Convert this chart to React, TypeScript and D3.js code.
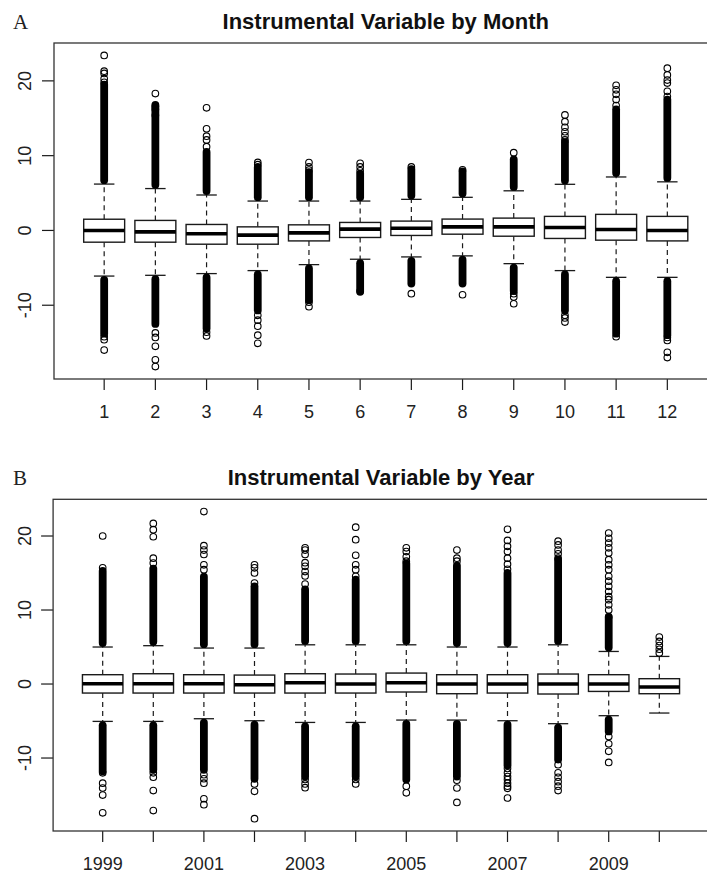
import React from 'react';
import * as d3 from 'd3';

const WIDTH = 707;
const HEIGHT = 873;
const FONT = '"Liberation Sans", Arial, sans-serif';
const INK = '#1a1a1a';

// Panel A: by month
const months = ['1', '2', '3', '4', '5', '6', '7', '8', '9', '10', '11', '12'];
const monthMedian = [0.0, -0.19, -0.45, -0.63, -0.32, 0.17, 0.3, 0.48, 0.48, 0.4, 0.13, 0.0];
const monthQ1 = [-1.57, -1.57, -1.84, -1.84, -1.4, -0.94, -0.67, -0.5, -0.77, -1.07, -1.3, -1.4];
const monthQ3 = [1.5, 1.34, 0.8, 0.48, 0.75, 1.07, 1.25, 1.52, 1.65, 1.88, 2.15, 1.88];
const monthWhiskerLo = [-6.1, -6.0, -5.77, -5.37, -4.57, -3.85, -3.54, -3.4, -4.44, -5.37, -6.27, -6.27];
const monthWhiskerHi = [6.2, 5.6, 4.74, 3.93, 3.93, 3.93, 4.16, 4.43, 5.3, 6.17, 7.15, 6.5];
// ends of the solid runs of overlapping outliers
const monthDenseHi = [19.5, 16.8, 10.5, 8.5, 7.8, 7.6, 8.2, 7.9, 9.5, 11.8, 16.2, 17.5];
const monthDenseLo = [-13.8, -12.5, -13.1, -10.7, -9.35, -8.2, -7.1, -7.1, -8.1, -10.7, -13.8, -14.0];
const monthOutHi = [
  [19.8, 20.3, 21.0, 21.3, 23.4],
  [15.4, 16.2, 16.6, 18.3],
  [11.2, 12.1, 12.6, 13.6, 16.4],
  [8.8, 9.1],
  [8.07, 8.5, 9.07],
  [7.98, 8.5, 8.98],
  [8.5],
  [8.1],
  [10.4],
  [12.1, 12.65, 13.2, 13.8, 14.55, 15.45],
  [16.7, 17.5, 18.2, 18.8, 19.4],
  [17.9, 18.6, 19.7, 20.1, 20.8, 21.7],
];
const monthOutLo = [
  [-14.2, -14.6, -16.0],
  [-13.7, -14.3, -15.5, -17.3, -18.2],
  [-13.6, -14.1],
  [-11.35, -12.0, -12.8, -14.0, -15.1],
  [-9.6, -10.2],
  [-8.1],
  [-8.45],
  [-8.6],
  [-8.45, -8.9, -9.8],
  [-11.35, -11.7, -12.25],
  [-14.2],
  [-14.3, -14.7, -16.3, -17.0],
];

// Panel B: by year
const years = ['1999', '2000', '2001', '2002', '2003', '2004', '2005', '2006', '2007', '2008', '2009', '2010'];
const yearTickLabels = ['1999', '2001', '2003', '2005', '2007', '2009'];
const yearMedian = [0.04, 0.04, 0.04, -0.1, 0.18, 0.0, 0.18, 0.0, 0.0, 0.0, 0.0, -0.41];
const yearQ1 = [-1.22, -1.22, -1.22, -1.22, -1.22, -1.22, -1.08, -1.31, -1.22, -1.35, -1.0, -1.31];
const yearQ3 = [1.26, 1.39, 1.26, 1.21, 1.39, 1.35, 1.48, 1.26, 1.26, 1.35, 1.26, 0.72];
const yearWhiskerLo = [-5.05, -5.05, -4.69, -4.96, -5.19, -5.19, -4.87, -4.87, -4.96, -5.36, -4.28, -3.92];
const yearWhiskerHi = [5.0, 5.18, 4.86, 4.86, 5.3, 5.3, 5.3, 5.0, 5.0, 5.3, 4.4, 3.73];
const yearDenseHi = [15.3, 15.6, 14.5, 13.2, 12.8, 14.1, 16.3, 16.0, 15.0, 16.8, 9.0, null];
const yearDenseLo = [-11.8, -11.6, -11.6, -12.8, -12.5, -12.5, -12.9, -12.5, -11.0, -10.2, -6.4, null];
const yearOutHi = [
  [15.7, 20.0],
  [16.35, 17.0, 19.9, 20.85, 21.7],
  [15.45, 16.1, 17.5, 18.1, 18.7, 23.3],
  [13.65, 15.0, 15.7, 16.1],
  [13.5, 14.6, 15.2, 15.9, 16.4, 17.5, 18.1, 18.4],
  [14.55, 15.45, 16.1, 17.4, 19.5, 21.2],
  [16.6, 17.2, 17.9, 18.4],
  [16.6, 17.0, 18.1],
  [15.5, 16.2, 17.0, 17.9, 18.6, 19.4, 20.9],
  [17.0, 17.6, 18.1, 18.8, 19.3],
  [9.1, 10.0, 10.7, 11.4, 11.8, 12.5, 13.2, 13.9, 14.55, 15.45, 16.1, 16.8, 17.7, 18.4, 19.05, 19.7, 20.4],
  [4.2, 4.7, 5.2, 5.75, 6.35],
];
const yearOutLo = [
  [-12.0, -13.4, -14.05, -15.0, -17.4],
  [-12.0, -12.6, -14.4, -17.1],
  [-12.25, -12.8, -13.4, -15.5, -16.3],
  [-13.5, -14.5, -18.2],
  [-12.9, -13.5, -14.0],
  [-12.9, -13.5],
  [-13.8, -14.7],
  [-13.0, -14.05, -16.0],
  [-11.4, -12.0, -12.5, -12.9, -13.4, -13.8, -14.1, -15.4],
  [-10.9, -12.0, -12.6, -13.2, -13.8, -14.4],
  [-7.1, -8.07, -9.1, -10.6],
  [],
];

const yTicks = [-10, 0, 10, 20];

type PanelProps = {
  letter: string;
  title: string;
  titleY: number;
  frameTop: number;
  frameBottom: number;
  frameLeft: number;
  frameRight: number;
  categories: string[];
  tickLabels: string[];
  median: number[];
  q1: number[];
  q3: number[];
  whiskerLo: number[];
  whiskerHi: number[];
  denseHi: (number | null)[];
  denseLo: (number | null)[];
  outHi: number[][];
  outLo: number[][];
};

const BoxPanel = (p: PanelProps) => {
  const n = p.categories.length;
  const all = [
    ...p.whiskerLo,
    ...p.whiskerHi,
    ...p.outHi.flat(),
    ...p.outLo.flat(),
  ];
  const [lo, hi] = d3.extent(all) as [number, number];
  const pad = (hi - lo) * 0.04;
  const xPad = (n - 0) * 0.04;

  const x = d3.scaleLinear().domain([0.5 - xPad, n + 0.5 + xPad]).range([p.frameLeft, p.frameRight]);
  const y = d3.scaleLinear().domain([lo - pad, hi + pad]).range([p.frameBottom, p.frameTop]);
  const step = x(2) - x(1);
  const halfBox = step * 0.4;
  const halfStaple = step * 0.2;
  const r = 3.3;
  const colW = 7.8;

  return (
    <g>
      <text x={13} y={p.titleY} fontFamily='"Liberation Serif", "Times New Roman", serif' fontSize={21} fill="#222">
        {p.letter}
      </text>
      <text
        x={(p.frameLeft + p.frameRight) / 2}
        y={p.titleY}
        textAnchor="middle"
        fontFamily={FONT}
        fontWeight="bold"
        fontSize={22}
        fill="#111"
      >
        {p.title}
      </text>

      {p.categories.map((c, i) => {
        const cx = x(i + 1);
        const dHi = p.denseHi[i];
        const dLo = p.denseLo[i];
        return (
          <g key={c}>
            <line x1={cx} x2={cx} y1={y(p.q3[i])} y2={y(p.whiskerHi[i])} stroke={INK} strokeWidth={1.2} strokeDasharray="5,4" />
            <line x1={cx} x2={cx} y1={y(p.q1[i])} y2={y(p.whiskerLo[i])} stroke={INK} strokeWidth={1.2} strokeDasharray="5,4" />
            <line x1={cx - halfStaple} x2={cx + halfStaple} y1={y(p.whiskerHi[i])} y2={y(p.whiskerHi[i])} stroke={INK} strokeWidth={1.3} />
            <line x1={cx - halfStaple} x2={cx + halfStaple} y1={y(p.whiskerLo[i])} y2={y(p.whiskerLo[i])} stroke={INK} strokeWidth={1.3} />
            {dHi != null && (
              <line x1={cx} x2={cx} y1={y(p.whiskerHi[i]) - colW / 2} y2={y(dHi)} stroke="#000" strokeWidth={colW} strokeLinecap="round" />
            )}
            {dLo != null && (
              <line x1={cx} x2={cx} y1={y(p.whiskerLo[i]) + colW / 2} y2={y(dLo)} stroke="#000" strokeWidth={colW} strokeLinecap="round" />
            )}
            {[...p.outHi[i], ...p.outLo[i]].map((v, j) => (
              <circle key={j} cx={cx} cy={y(v)} r={r} fill="none" stroke="#000" strokeWidth={1.1} />
            ))}
            <rect
              x={cx - halfBox}
              y={y(p.q3[i])}
              width={halfBox * 2}
              height={y(p.q1[i]) - y(p.q3[i])}
              fill="#fff"
              stroke={INK}
              strokeWidth={1.4}
            />
            <line x1={cx - halfBox} x2={cx + halfBox} y1={y(p.median[i])} y2={y(p.median[i])} stroke="#000" strokeWidth={3.6} />
            <line x1={cx} x2={cx} y1={p.frameBottom} y2={p.frameBottom + 11} stroke={INK} strokeWidth={1.2} />
            {p.tickLabels.includes(c) && (
              <text x={cx} y={p.frameBottom + 39} textAnchor="middle" fontFamily={FONT} fontSize={18} fill="#222">
                {c}
              </text>
            )}
          </g>
        );
      })}

      {yTicks.map((t) => (
        <g key={t}>
          <line x1={p.frameLeft - 12} x2={p.frameLeft} y1={y(t)} y2={y(t)} stroke={INK} strokeWidth={1.2} />
          <text
            transform={`translate(${31},${y(t)}) rotate(-90)`}
            textAnchor="middle"
            fontFamily={FONT}
            fontSize={18}
            fill="#222"
          >
            {t}
          </text>
        </g>
      ))}

      <rect
        x={p.frameLeft}
        y={p.frameTop}
        width={p.frameRight - p.frameLeft}
        height={p.frameBottom - p.frameTop}
        fill="none"
        stroke="#333"
        strokeWidth={1.3}
      />
    </g>
  );
};

export default function App() {
  return (
    <div style={{ position: 'absolute', left: 0, top: 0 }}>
      <svg width={WIDTH} height={HEIGHT} style={{ display: 'block', background: '#fff' }}>
        <BoxPanel
          letter="A"
          title="Instrumental Variable by Month"
          titleY={29}
          frameTop={43}
          frameBottom={379}
          frameLeft={54}
          frameRight={717.5}
          categories={months}
          tickLabels={months}
          median={monthMedian}
          q1={monthQ1}
          q3={monthQ3}
          whiskerLo={monthWhiskerLo}
          whiskerHi={monthWhiskerHi}
          denseHi={monthDenseHi}
          denseLo={monthDenseLo}
          outHi={monthOutHi}
          outLo={monthOutLo}
        />
        <BoxPanel
          letter="B"
          title="Instrumental Variable by Year"
          titleY={485}
          frameTop={499.3}
          frameBottom={831}
          frameLeft={53.1}
          frameRight={708.9}
          categories={years}
          tickLabels={yearTickLabels}
          median={yearMedian}
          q1={yearQ1}
          q3={yearQ3}
          whiskerLo={yearWhiskerLo}
          whiskerHi={yearWhiskerHi}
          denseHi={yearDenseHi}
          denseLo={yearDenseLo}
          outHi={yearOutHi}
          outLo={yearOutLo}
        />
      </svg>
    </div>
  );
}
